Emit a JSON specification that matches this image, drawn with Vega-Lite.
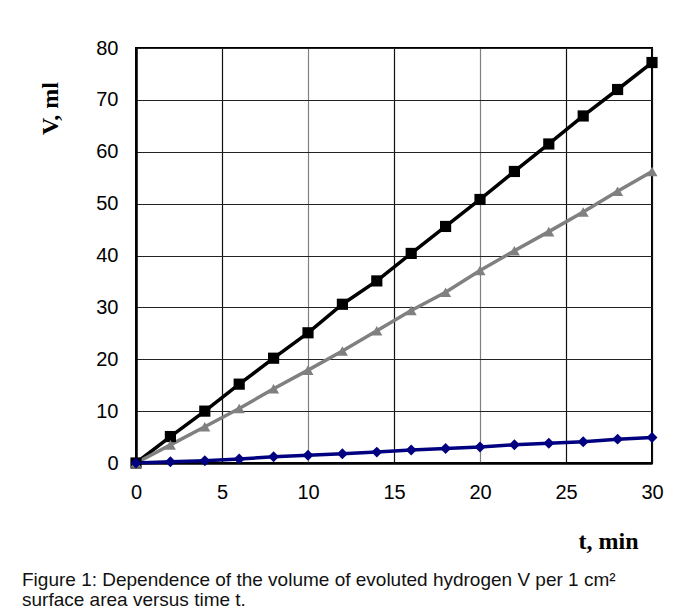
{
  "$schema": "https://vega.github.io/schema/vega-lite/v6.json",
  "autosize": {"type": "none"},
  "width": 516,
  "height": 415,
  "padding": {"left": 136, "top": 48, "right": 37, "bottom": 149},
  "background": "white",
  "title": {
    "text": ["Figure 1: Dependence of the volume of evoluted hydrogen V per 1 cm²", "surface area versus time t."],
    "orient": "bottom",
    "anchor": "start",
    "frame": "group",
    "dx": -114,
    "offset": 18,
    "font": "Liberation Sans",
    "fontSize": 19,
    "fontWeight": "normal",
    "color": "#111",
    "lineHeight": 20,
    "baseline": "top"
  },
  "data": {
    "values": [
      {"t": 0, "V": 0, "s": "a"}, {"t": 2, "V": 5.1, "s": "a"}, {"t": 4, "V": 10.0, "s": "a"}, {"t": 6, "V": 15.2, "s": "a"},
      {"t": 8, "V": 20.2, "s": "a"}, {"t": 10, "V": 25.1, "s": "a"}, {"t": 12, "V": 30.6, "s": "a"}, {"t": 14, "V": 35.1, "s": "a"},
      {"t": 16, "V": 40.4, "s": "a"}, {"t": 18, "V": 45.6, "s": "a"}, {"t": 20, "V": 50.8, "s": "a"}, {"t": 22, "V": 56.2, "s": "a"},
      {"t": 24, "V": 61.5, "s": "a"}, {"t": 26, "V": 66.9, "s": "a"}, {"t": 28, "V": 72.0, "s": "a"}, {"t": 30, "V": 77.2, "s": "a"},
      {"t": 0, "V": 0, "s": "b"}, {"t": 2, "V": 3.5, "s": "b"}, {"t": 4, "V": 7.0, "s": "b"}, {"t": 6, "V": 10.5, "s": "b"},
      {"t": 8, "V": 14.3, "s": "b"}, {"t": 10, "V": 17.9, "s": "b"}, {"t": 12, "V": 21.6, "s": "b"}, {"t": 14, "V": 25.5, "s": "b"},
      {"t": 16, "V": 29.4, "s": "b"}, {"t": 18, "V": 32.9, "s": "b"}, {"t": 20, "V": 37.1, "s": "b"}, {"t": 22, "V": 40.9, "s": "b"},
      {"t": 24, "V": 44.6, "s": "b"}, {"t": 26, "V": 48.4, "s": "b"}, {"t": 28, "V": 52.4, "s": "b"}, {"t": 30, "V": 56.2, "s": "b"},
      {"t": 0, "V": 0, "s": "c"}, {"t": 2, "V": 0.26, "s": "c"}, {"t": 4, "V": 0.45, "s": "c"}, {"t": 6, "V": 0.77, "s": "c"},
      {"t": 8, "V": 1.2, "s": "c"}, {"t": 10, "V": 1.5, "s": "c"}, {"t": 12, "V": 1.8, "s": "c"}, {"t": 14, "V": 2.1, "s": "c"},
      {"t": 16, "V": 2.5, "s": "c"}, {"t": 18, "V": 2.8, "s": "c"}, {"t": 20, "V": 3.1, "s": "c"}, {"t": 22, "V": 3.5, "s": "c"},
      {"t": 24, "V": 3.8, "s": "c"}, {"t": 26, "V": 4.1, "s": "c"}, {"t": 28, "V": 4.6, "s": "c"}, {"t": 30, "V": 4.9, "s": "c"}
    ]
  },
  "encoding": {
    "x": {
      "field": "t", "type": "quantitative",
      "scale": {"domain": [0, 30], "nice": false},
      "axis": {
        "values": [0, 5, 10, 15, 20, 25, 30],
        "title": "t, min",
        "titleFont": "Liberation Serif", "titleFontSize": 24, "titleFontWeight": "bold", "titleColor": "black",
        "titleX": 472, "titleY": 85, "titleAlign": "center", "titleBaseline": "alphabetic",
        "labelFont": "Liberation Sans", "labelFontSize": 20, "labelColor": "black", "labelPadding": 19,
        "labelFlush": false,
        "ticks": false,
        "domainColor": "black", "domainWidth": 2.5,
        "grid": true,
        "gridColor": {"condition": {"test": "datum.value === 10 || datum.value === 20", "value": "#808080"}, "value": "#111"},
        "gridWidth": 1.2, "gridOpacity": 1
      }
    },
    "y": {
      "field": "V", "type": "quantitative",
      "scale": {"domain": [0, 80], "nice": false},
      "axis": {
        "values": [0, 10, 20, 30, 40, 50, 60, 70, 80],
        "title": "V, ml",
        "titleFont": "Liberation Serif", "titleFontSize": 24, "titleFontWeight": "bold", "titleColor": "black",
        "titleX": -86, "titleY": 60, "titleAngle": -90, "titleAlign": "center", "titleBaseline": "middle",
        "labelFont": "Liberation Sans", "labelFontSize": 20, "labelColor": "black", "labelPadding": 18,
        "labelFlush": false,
        "ticks": false,
        "domainColor": "black", "domainWidth": 2.5,
        "grid": true, "gridColor": "#222", "gridWidth": 1.2, "gridOpacity": 1
      }
    },
    "color": {
      "field": "s", "type": "nominal",
      "scale": {"domain": ["a", "b", "c"], "range": ["#000000", "#808080", "#000080"]},
      "legend": null
    },
    "detail": {"field": "s"}
  },
  "layer": [
    {"mark": {"type": "line", "strokeWidth": 3.5}},
    {
      "mark": {"type": "point", "filled": true, "opacity": 1},
      "encoding": {
        "shape": {
          "field": "s", "type": "nominal",
          "scale": {"domain": ["a", "b", "c"], "range": ["square", "triangle-up", "diamond"]},
          "legend": null
        },
        "size": {
          "field": "s", "type": "nominal",
          "scale": {"domain": ["a", "b", "c"], "range": [125, 120, 95]},
          "legend": null
        }
      }
    }
  ],
  "config": {
    "view": {"stroke": "black", "strokeWidth": 2}
  }
}
